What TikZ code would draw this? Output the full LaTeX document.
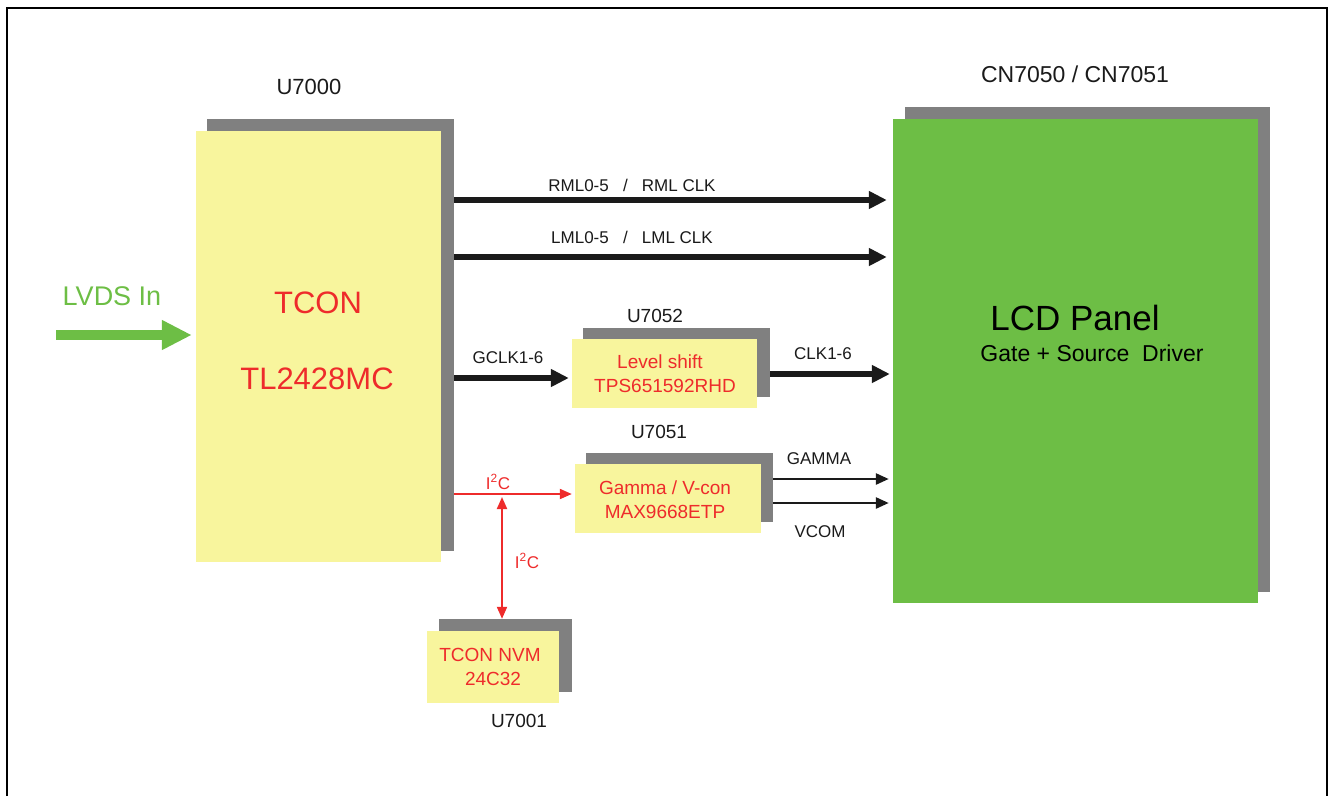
\documentclass[tikz,border=0pt]{standalone}
\usepackage{fontspec}
\setmainfont{Liberation Sans}
\usetikzlibrary{arrows.meta}
\definecolor{boxyellow}{HTML}{F8F59D}
\definecolor{shadowgray}{HTML}{808080}
\definecolor{panelgreen}{HTML}{6DBE45}
\definecolor{txtred}{HTML}{EE2B2B}
\definecolor{ink}{HTML}{1A1A1A}
\tikzset{
  chip/.style={fill=boxyellow, draw=none, inner sep=0pt, minimum width=#1},
  shade/.style={fill=shadowgray, draw=none, inner sep=0pt},
  lbl/.style={inner sep=0pt, text=ink, font=\fontsize{17}{17}\selectfont},
  ulbl/.style={inner sep=0pt, text=ink, font=\fontsize{19}{19}\selectfont},
  redtxt/.style={inner sep=0pt, text=txtred, font=\fontsize{19}{19}\selectfont},
  busarrow/.style={draw=ink, line width=5.5pt, -{Triangle[length=18pt,width=17pt]}},
  sigarrow/.style={draw=ink, line width=2.6pt, -{Triangle[length=13pt,width=11pt]}},
  i2carrow/.style={line width=2pt, draw=txtred, -{Triangle[length=12pt,width=10pt]}},
  i2cdouble/.style={line width=2pt, draw=txtred, {Triangle[length=12pt,width=10pt]}-{Triangle[length=12pt,width=10pt]}},
}
\begin{document}
\begin{tikzpicture}[x=1pt,y=-1pt]
\useasboundingbox (0,0) rectangle (1330,796);
% frame
\draw[line width=2pt] (7,796) -- (7,8) -- (1327,8) -- (1327,796);

% TCON U7000
\node[shade, minimum width=247pt, minimum height=432pt] (tconS) at (330.5,335) {};
\node[chip=245pt, minimum height=431pt] (tcon) at (318.5,346.5) {};
\node[ulbl, font=\fontsize{22}{22}\selectfont] (tconU) at (309,87) {U7000};
\node[redtxt, font=\fontsize{31}{31}\selectfont] (tconA) at (318,303) {TCON};
\node[redtxt, font=\fontsize{31}{31}\selectfont] (tconB) at (317,379) {TL2428MC};

% LCD panel
\node[shade, minimum width=365pt, minimum height=485pt] (lcdS) at (1087.5,349.5) {};
\node[fill=panelgreen, inner sep=0pt, minimum width=365pt, minimum height=484pt] (lcd) at (1075.5,361) {};
\node[ulbl, font=\fontsize{23}{23}\selectfont] (lcdU) at (1075,74) {CN7050 / CN7051};
\node[inner sep=0pt, text=black, font=\fontsize{35}{35}\selectfont] (lcdA) at (1075,318) {LCD Panel};
\node[inner sep=0pt, text=black, font=\fontsize{23}{23}\selectfont] (lcdB) at (1092,353) {Gate + Source\ \ Driver};

% Level shift U7052
\node[shade, minimum width=187pt, minimum height=69pt] (lsS) at (676.5,362.5) {};
\node[chip=185pt, minimum height=69pt] (ls) at (664.5,373.5) {};
\node[ulbl] (lsU) at (655,316) {U7052};
\node[redtxt] (lsA) at (660,362) {Level shift};
\node[redtxt] (lsB) at (665,386) {TPS651592RHD};

% Gamma U7051
\node[shade, minimum width=187pt, minimum height=69pt] (gmS) at (679.5,487.5) {};
\node[chip=186pt, minimum height=69pt] (gm) at (668,498.5) {};
\node[ulbl] (gmU) at (659,432) {U7051};
\node[redtxt] (gmA) at (665,488) {Gamma / V-con};
\node[redtxt] (gmB) at (665,512) {MAX9668ETP};

% NVM U7001
\node[shade, minimum width=133pt, minimum height=73pt] (nvS) at (505.5,655.5) {};
\node[chip=132pt, minimum height=72pt] (nv) at (493,667) {};
\node[ulbl] (nvU) at (519,721) {U7001};
\node[redtxt] (nvA) at (490,655) {TCON NVM};
\node[redtxt] (nvB) at (493,679) {24C32};

% LVDS input
\coordinate (lvdsStart) at (56,335);
\node[inner sep=0pt, text=panelgreen, font=\fontsize{27}{27}\selectfont] (lvdsL) at (112,296) {LVDS In};
\draw[draw=panelgreen, line width=10pt, -{Triangle[length=30pt,width=28pt]}] (lvdsStart) -- ([xshift=-4pt]tcon.west |- lvdsStart);

% buses to LCD
\draw[busarrow] (tconS.east |- 0,200) -- ([xshift=-6pt]lcd.west |- 0,200);
\node[lbl] (rmlL) at (632,185) {RML0-5\ \ \ /\ \ \ RML CLK};
\draw[busarrow] (tconS.east |- 0,257) -- ([xshift=-6pt]lcd.west |- 0,257);
\node[lbl] (lmlL) at (632,237) {LML0-5\ \ \ /\ \ \ LML CLK};

% GCLK
\draw[busarrow] (tconS.east |- 0,378) -- ([xshift=-3pt]ls.west |- 0,378);
\node[lbl] (gclkL) at (508,358) {GCLK1-6};
\draw[busarrow] (lsS.east |- 0,374) -- ([xshift=-3pt]lcd.west |- 0,374);
\node[lbl] (clkL) at (823,354) {CLK1-6};

% Gamma / VCOM
\draw[sigarrow] (gmS.east |- 0,479) -- ([xshift=-4pt]lcd.west |- 0,479);
\node[lbl] (gamL) at (819,459) {GAMMA};
\draw[sigarrow] (gmS.east |- 0,503) -- ([xshift=-4pt]lcd.west |- 0,503);
\node[lbl] (vcomL) at (820,532) {VCOM};

% I2C
\draw[i2carrow] (tconS.east |- 0,494) -- ([xshift=-3pt]gm.west |- 0,494);
\node[lbl, text=txtred] (i2cA) at (498,482) {I\textsuperscript{2}C};
\coordinate (i2cTop) at (502,497);
\draw[i2cdouble] (i2cTop) -- (nvS.north -| i2cTop);
\node[lbl, text=txtred] (i2cB) at (527,561) {I\textsuperscript{2}C};
\end{tikzpicture}
\end{document}
